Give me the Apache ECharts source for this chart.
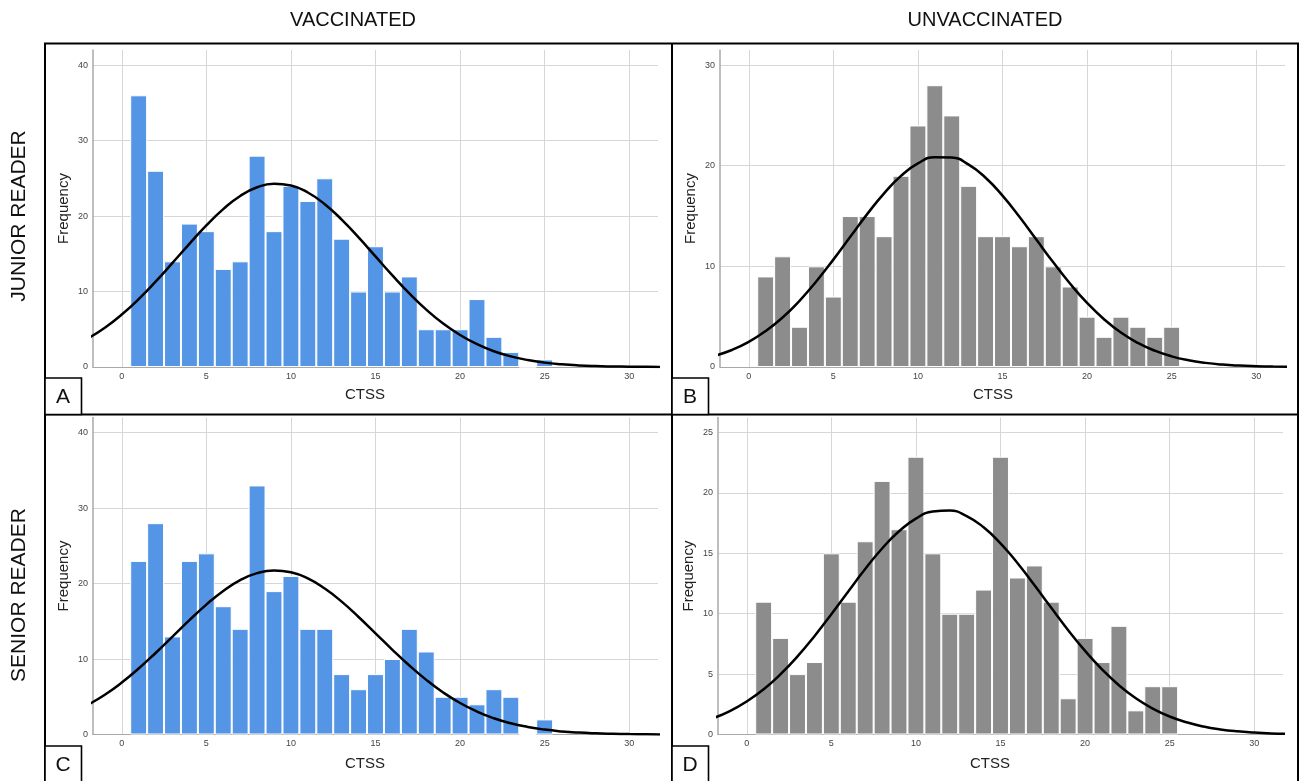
<!DOCTYPE html>
<html>
<head>
<meta charset="utf-8">
<script src="https://cdn.jsdelivr.net/npm/echarts@6/dist/echarts.min.js"></script>
<style>
  html, body { margin: 0; padding: 0; background: #ffffff; }
  #chart { width: 1301px; height: 781px; }
</style>
</head>
<body>
<div id="chart"></div>
<script>
// CTSS bins (width 1, centred on integers)
const bins = [1, 2, 3, 4, 5, 6, 7, 8, 9, 10, 11, 12, 13, 14, 15, 16, 17, 18, 19, 20, 21, 22, 23, 24, 25];

// frequencies per panel
const juniorVaccinated = [36, 26, 14, 19, 18, 13, 14, 28, 18, 24, 22, 25, 17, 10, 16, 10, 12, 5, 5, 5, 9, 4, 2, 0, 1];
const juniorUnvaccinated = [9, 11, 4, 10, 7, 15, 15, 13, 19, 24, 28, 25, 18, 13, 13, 12, 13, 10, 8, 5, 3, 5, 4, 3, 4];
const seniorVaccinated = [23, 28, 13, 23, 24, 17, 14, 33, 19, 21, 14, 14, 8, 6, 8, 10, 14, 11, 5, 5, 4, 6, 5, 0, 2];
const seniorUnvaccinated = [11, 8, 5, 6, 15, 11, 16, 21, 17, 23, 15, 10, 10, 12, 23, 13, 14, 11, 3, 8, 6, 9, 2, 4, 4];

// normal curve, read at every whole CTSS value
const curveX = [-2, -1, 0, 1, 2, 3, 4, 5, 6, 7, 8, 9, 10, 11, 12, 13, 14, 15, 16, 17, 18, 19, 20, 21, 22, 23, 24, 25, 26, 27, 28, 29, 30, 31, 32];
const curveJuniorVacc = [3.79, 5.21, 6.95, 8.99, 11.3, 13.79, 16.32, 18.76, 20.92, 22.66, 23.81, 24.29, 24.05, 23.12, 21.57, 19.53, 17.17, 14.65, 12.13, 9.75, 7.61, 5.76, 4.24, 3.03, 2.09, 1.41, 0.92, 0.58, 0.36, 0.21, 0.12, 0.07, 0.04, 0.02, 0.01];
const curveJuniorUnvacc = [1.12, 1.69, 2.5, 3.57, 4.92, 6.58, 8.52, 10.67, 12.94, 15.19, 17.26, 18.99, 20.23, 20.85, 20.81, 20.11, 18.81, 17.03, 14.93, 12.66, 10.4, 8.27, 6.37, 4.75, 3.42, 2.39, 1.62, 1.06, 0.67, 0.41, 0.24, 0.14, 0.08, 0.04, 0.02];
const curveSeniorVacc = [3.93, 5.27, 6.88, 8.74, 10.8, 12.97, 15.15, 17.21, 19.02, 20.45, 21.38, 21.74, 21.5, 20.68, 19.34, 17.6, 15.57, 13.41, 11.22, 9.14, 7.24, 5.57, 4.17, 3.04, 2.15, 1.48, 1.0, 0.65, 0.41, 0.25, 0.15, 0.09, 0.05, 0.03, 0.01];
const curveSeniorUnvacc = [1.34, 1.94, 2.74, 3.75, 5.0, 6.47, 8.14, 9.96, 11.85, 13.7, 15.4, 16.83, 17.88, 18.46, 18.54, 18.09, 17.16, 15.83, 14.2, 12.37, 10.49, 8.64, 6.92, 5.39, 4.08, 3.0, 2.15, 1.49, 1.01, 0.66, 0.42, 0.26, 0.16, 0.09, 0.05];

const xMin = -1.7;
const xMax = 31.7;

const BLUE = "#5595e5";
const GREY = "#8c8c8c";
const FONT = "Liberation Sans";

const panels = [
  { letter: "A", counts: juniorVaccinated, curve: curveJuniorVacc, color: BLUE, yMax: 42, yStep: 10,
    grid: { left: 93, top: 50, width: 565, height: 317 }, box: [45, 378], ctss: [365, 395] },
  { letter: "B", counts: juniorUnvaccinated, curve: curveJuniorUnvacc, color: GREY, yMax: 31.5, yStep: 10,
    grid: { left: 720, top: 50, width: 565, height: 317 }, box: [672, 378], ctss: [993, 395] },
  { letter: "C", counts: seniorVaccinated, curve: curveSeniorVacc, color: BLUE, yMax: 42, yStep: 10,
    grid: { left: 93, top: 417.5, width: 565, height: 317 }, box: [45, 746], ctss: [365, 764] },
  { letter: "D", counts: seniorUnvaccinated, curve: curveSeniorUnvacc, color: GREY, yMax: 26.25, yStep: 5,
    grid: { left: 718, top: 417.5, width: 565, height: 317 }, box: [672, 746], ctss: [990, 764] }
];

const grids = [];
const xAxes = [];
const yAxes = [];
const series = [];
const graphics = [];

panels.forEach((p, i) => {
  grids.push(p.grid);
  xAxes.push({
    gridIndex: i,
    type: "value",
    min: xMin,
    max: xMax,
    axisLine: { show: true, onZero: false, lineStyle: { color: "#a8a8a8", width: 1.2 } },
    axisTick: { show: false },
    axisLabel: { fontSize: 9, color: "#444", fontFamily: FONT, margin: 5, showMinLabel: false, showMaxLabel: false },
    splitLine: { show: true, showMinLine: false, showMaxLine: false, lineStyle: { color: "#d6d6d6", width: 1 } }
  });
  yAxes.push({
    gridIndex: i,
    type: "value",
    min: 0,
    max: p.yMax,
    interval: p.yStep,
    name: "Frequency",
    nameLocation: "middle",
    nameRotate: 90,
    nameGap: 22,
    nameTextStyle: { fontSize: 15, color: "#222", fontFamily: FONT },
    axisLine: { show: true, onZero: false, lineStyle: { color: "#a8a8a8", width: 1.5 } },
    axisTick: { show: false },
    axisLabel: { fontSize: 9, color: "#444", fontFamily: FONT, margin: 5, showMaxLabel: false },
    splitLine: { show: true, showMaxLine: false, lineStyle: { color: "#d6d6d6", width: 1 } }
  });
  series.push({
    type: "bar",
    xAxisIndex: i,
    yAxisIndex: i,
    barWidth: "100%",
    data: bins.map((b, k) => [b, p.counts[k]]),
    itemStyle: { color: p.color, borderColor: "#ffffff", borderWidth: 1 }
  });
  series.push({
    type: "line",
    xAxisIndex: i,
    yAxisIndex: i,
    smooth: true,
    showSymbol: false,
    z: 5,
    data: curveX.map((x, k) => [x, p.curve[k]]),
    lineStyle: { color: "#000000", width: 2.5 }
  });
  // CTSS axis title
  graphics.push({
    type: "text",
    x: p.ctss[0],
    y: p.ctss[1],
    style: { text: "CTSS", fontSize: 15, fill: "#222", fontFamily: FONT, align: "center", verticalAlign: "middle" }
  });
  // panel letter box
  graphics.push({
    type: "rect",
    shape: { x: p.box[0], y: p.box[1], width: 36.5, height: 36.5 },
    style: { fill: "#ffffff", stroke: "#000000", lineWidth: 1.6 },
    z: 10
  });
  graphics.push({
    type: "text",
    x: p.box[0] + 18,
    y: p.box[1] + 19,
    z: 11,
    style: { text: p.letter, fontSize: 21, fill: "#111", fontFamily: FONT, align: "center", verticalAlign: "middle" }
  });
});

// frame and panel dividers
graphics.push(
  { type: "rect", shape: { x: 45, y: 43.5, width: 1253, height: 760 }, style: { fill: null, stroke: "#000", lineWidth: 2 }, z: 9 },
  { type: "line", shape: { x1: 45, y1: 414.5, x2: 1298, y2: 414.5 }, style: { stroke: "#000", lineWidth: 2 }, z: 9 },
  { type: "line", shape: { x1: 672, y1: 43.5, x2: 672, y2: 790 }, style: { stroke: "#000", lineWidth: 2 }, z: 9 },
  { type: "text", x: 353, y: 20, style: { text: "VACCINATED", fontSize: 20, fill: "#111", fontFamily: FONT, align: "center", verticalAlign: "middle" } },
  { type: "text", x: 985, y: 20, style: { text: "UNVACCINATED", fontSize: 20, fill: "#111", fontFamily: FONT, align: "center", verticalAlign: "middle" } },
  { type: "text", x: 19, y: 216, rotation: Math.PI / 2, style: { text: "JUNIOR READER", fontSize: 21, fill: "#111", fontFamily: FONT, align: "center", verticalAlign: "middle" } },
  { type: "text", x: 19, y: 595, rotation: Math.PI / 2, style: { text: "SENIOR READER", fontSize: 21, fill: "#111", fontFamily: FONT, align: "center", verticalAlign: "middle" } }
);

const chart = echarts.init(document.getElementById("chart"), null, { renderer: "canvas" });
chart.setOption({
  animation: false,
  backgroundColor: "#ffffff",
  grid: grids,
  xAxis: xAxes,
  yAxis: yAxes,
  series: series,
  graphic: graphics
});
</script>
</body>
</html>
